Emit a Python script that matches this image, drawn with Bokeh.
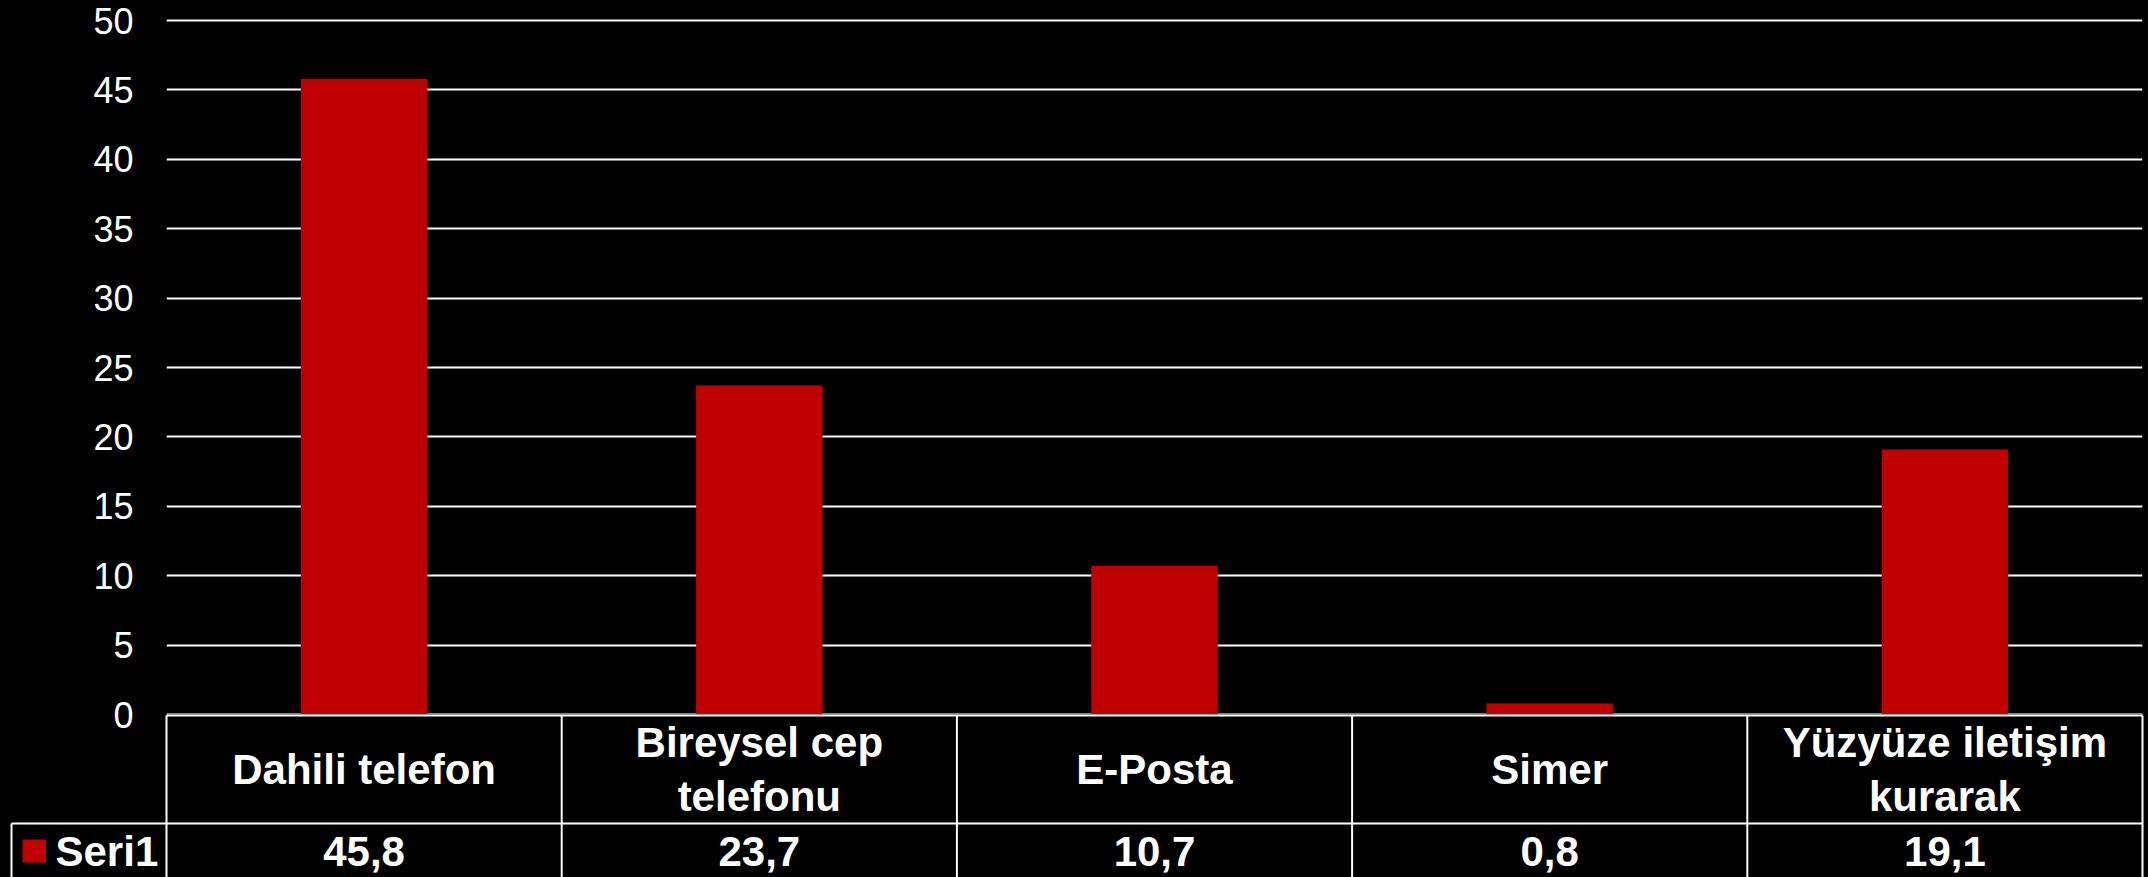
import numpy as np
from bokeh.plotting import figure
from bokeh.models import FactorRange, Range1d, FixedTicker, ColumnDataSource, GlobalInlineStyleSheet
from bokeh.core.properties import value
from bokeh.embed import file_html
from bokeh.resources import INLINE

# ---------------- data ----------------
categories = ["Dahili telefon", "Bireysel cep telefonu", "E-Posta", "Simer", "Yüzyüze iletişim kurarak"]
header_labels = ["Dahili telefon", "Bireysel cep\ntelefonu", "E-Posta", "Simer", "Yüzyüze iletişim\nkurarak"]
series_name = "Seri1"
values = [45.8, 23.7, 10.7, 0.8, 19.1]
y_ticks = [0, 5, 10, 15, 20, 25, 30, 35, 40, 45, 50]

# ---------------- layout (page pixels) ----------------
W, H = 2148, 877
FRAME_L, FRAME_R = 166, 2142
FRAME_T, FRAME_B = 18, 877
Y0_PX, Y50_PX = 714, 20
PXU = (Y0_PX - Y50_PX) / 50.0
XPU = (FRAME_R - FRAME_L) / 5.0

def yv(py):
    return (Y0_PX - py) / PXU

def xv(px):
    return (px - FRAME_L) / XPU

BAR = "#C00000"
FONT = value("Liberation Sans")

n = len(categories)
p = figure(width=W, height=H,
           x_range=FactorRange(factors=categories, range_padding=0),
           y_range=Range1d(yv(FRAME_B), yv(FRAME_T)),
           output_backend="svg", toolbar_location=None, x_axis_location=None,
           min_border_left=FRAME_L, min_border_right=W - FRAME_R,
           min_border_top=FRAME_T, min_border_bottom=0,
           background_fill_color="black", border_fill_color="black",
           outline_line_color=None)
p.stylesheets = [GlobalInlineStyleSheet(css="body{background:#000;}")]

ax = p.yaxis[0]
ax.ticker = FixedTicker(ticks=y_ticks)
ax.axis_line_color = None
ax.major_tick_line_color = None
ax.minor_tick_line_color = None
ax.major_tick_out = 0
ax.major_tick_in = 0
ax.major_label_standoff = 33
ax.major_label_text_color = "white"
ax.major_label_text_font = "Liberation Sans"
ax.major_label_text_font_size = "36px"

p.ygrid.ticker = FixedTicker(ticks=y_ticks)
p.ygrid.grid_line_color = "white"
p.ygrid.grid_line_width = 2
p.xgrid.visible = False

src = ColumnDataSource(dict(cat=categories, val=values, head=header_labels,
                            lab=[f"{v:.1f}".replace(".", ",") for v in values]))
bars = p.vbar(x="cat", top="val", width=0.32, source=src, fill_color=BAR, line_color=None)

# x-axis baseline (dark gray, as in the reference)
p.segment(x0=[0], y0=[0], x1=[n], y1=[0], line_color="#404040", line_width=1)

# ---------------- data table ----------------
TBL_T, ROW_B, TBL_B = 715, 823, 900
LEG_L = 11
LC = "white"
bx = list(range(n + 1))
p.segment(x0=bx, y0=[yv(TBL_T)] * (n + 1), x1=bx, y1=[yv(TBL_B)] * (n + 1),
          line_color=LC, line_width=2, level="overlay")
p.segment(x0=[0, xv(LEG_L), xv(LEG_L)], y0=[yv(TBL_T), yv(ROW_B), yv(ROW_B)],
          x1=[n, n, xv(LEG_L)], y1=[yv(TBL_T), yv(ROW_B), yv(TBL_B)],
          line_color=LC, line_width=2, level="overlay")

p.text(x="cat", y=yv(769), text="head", source=src, text_align="center",
       text_baseline="middle", text_color="white", text_font=FONT,
       text_font_style="bold", text_font_size="42px", text_line_height=1.15,
       level="overlay")
p.text(x="cat", y=yv(851), text="lab", source=src, text_align="center",
       text_baseline="middle", text_color="white", text_font=FONT,
       text_font_style="bold", text_font_size="42px", level="overlay")

# legend key of the series, in the table's first column
p.segment(x0=[xv(22)], y0=[yv(850.5)], x1=[xv(45.5)], y1=[yv(850.5)],
          line_color=BAR, line_width=23, line_cap="butt", level="overlay")
p.text(x=[xv(55)], y=[yv(851)], text=[series_name], text_align="left",
       text_baseline="middle", text_color="white", text_font=FONT,
       text_font_style="bold", text_font_size="42px", level="overlay")

open("out.html", "w").write(file_html(p, INLINE))
